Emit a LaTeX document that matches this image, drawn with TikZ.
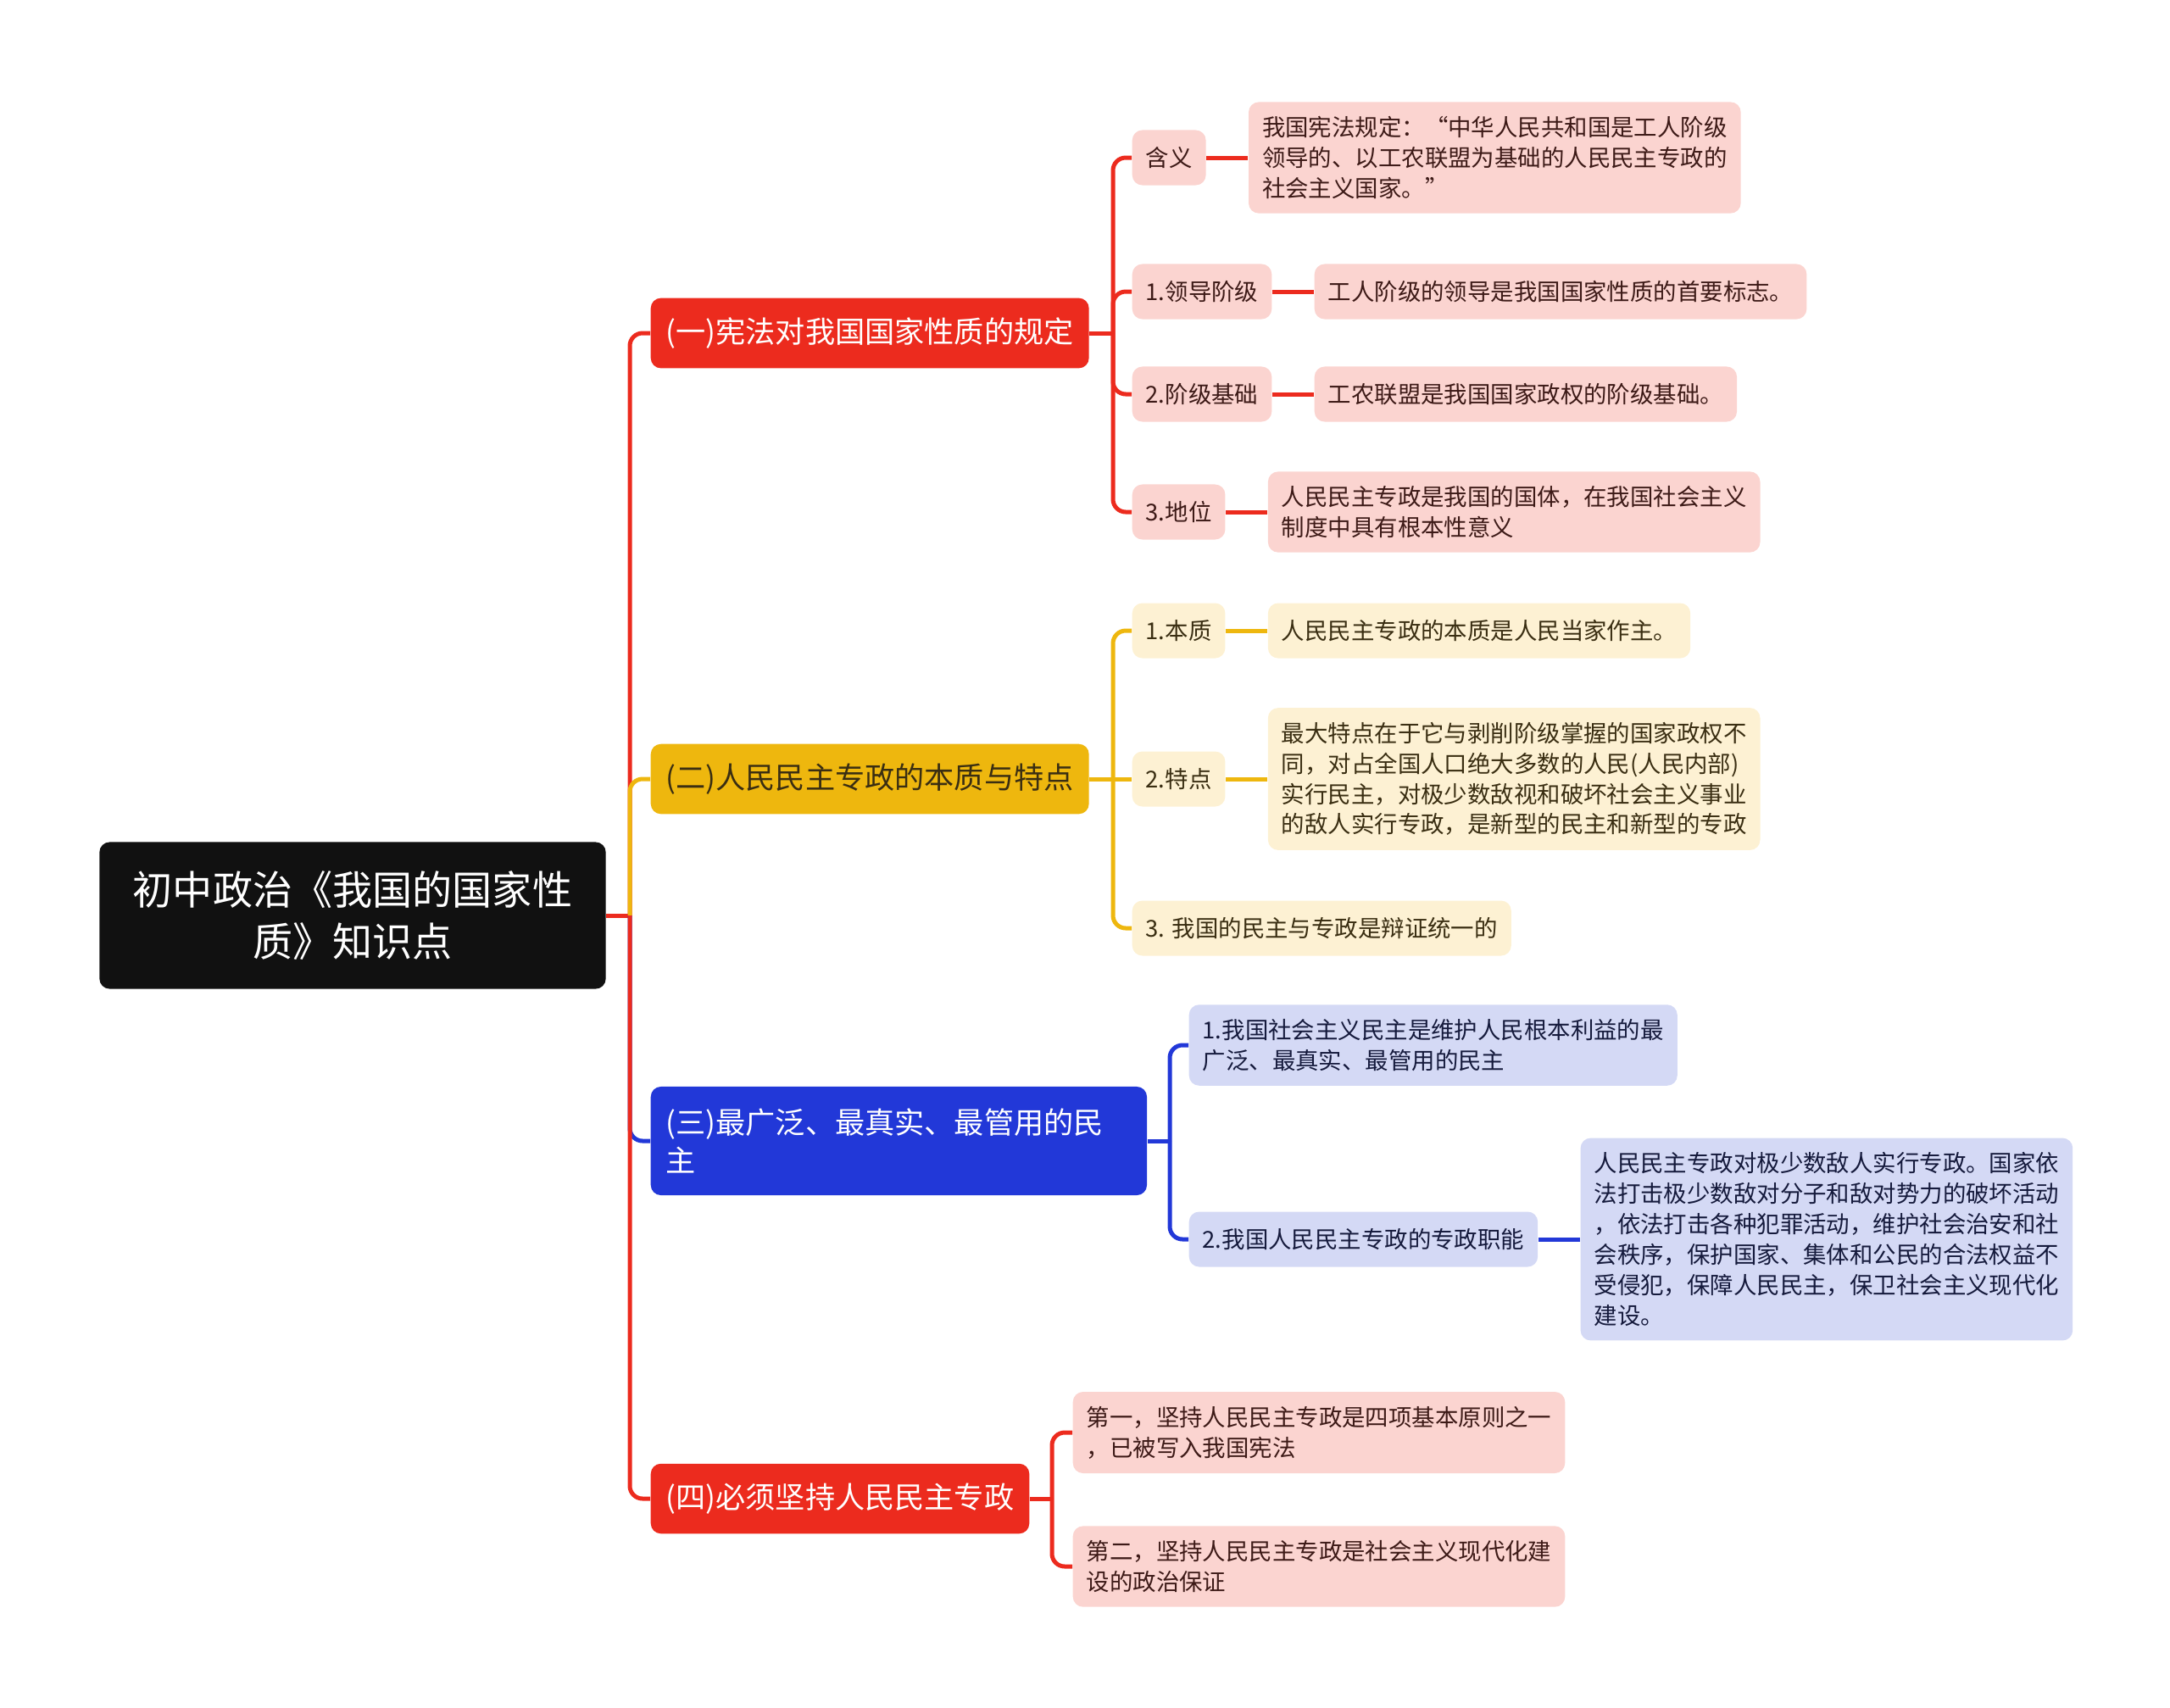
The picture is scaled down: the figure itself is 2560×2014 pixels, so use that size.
\documentclass[tikz,border=0pt]{standalone}
\usepackage{fontspec}
\newfontfamily\cjk{Noto Sans CJK SC}
\usepackage{tikz}
\usetikzlibrary{positioning}
\definecolor{mapred}{HTML}{EC2B1E}
\definecolor{mapyellow}{HTML}{EEB70E}
\definecolor{mapblue}{HTML}{2238D8}
\definecolor{softred}{HTML}{FBD4D0}
\definecolor{softyellow}{HTML}{FDF1D3}
\definecolor{softblue}{HTML}{D4D9F5}
\definecolor{inkred}{HTML}{3D1A17}
\definecolor{inkyellow}{HTML}{3A2E12}
\definecolor{inkblue}{HTML}{151A3C}
\definecolor{rootblack}{HTML}{111111}

\begin{document}
\begin{tikzpicture}[x=0.01cm, y=-0.01cm, node distance=0.49cm, every node/.style={font=\cjk}]
\tikzstyle{root}=[fill=rootblack, rounded corners=0.12cm, align=center, text=white, minimum width=5.97cm, minimum height=1.73cm, font=\cjk\fontsize{13.4}{17.6}\selectfont]
\tikzstyle{branch}=[rounded corners=0.12cm, align=left, anchor=west, inner xsep=0.18cm, inner ysep=0.23cm, minimum height=0.81cm, font=\cjk\fontsize{10}{13}\selectfont]
\tikzstyle{leaf}=[rounded corners=0.12cm, align=left, inner xsep=0.16cm, inner ysep=0.17cm, minimum height=0.65cm, font=\cjk\fontsize{7.8}{10.2}\selectfont]
\tikzstyle{redleaf}=[leaf, fill=softred, text=inkred]
\tikzstyle{yellowleaf}=[leaf, fill=softyellow, text=inkyellow]
\tikzstyle{blueleaf}=[leaf, fill=softblue, text=inkblue]
\tikzstyle{redline}=[draw=mapred, line width=0.05cm]
\tikzstyle{yellowline}=[draw=mapyellow, line width=0.05cm]
\tikzstyle{blueline}=[draw=mapblue, line width=0.05cm]
\useasboundingbox (0,0) rectangle (2560,2014);

% root and main branches
\node[root] (root) at (416,1080) {初中政治《我国的国家性\\质》知识点};
\node[branch, fill=mapred, text=white] (b1) at (767,393) {(一)宪法对我国国家性质的规定};
\node[branch, fill=mapyellow, text=inkyellow] (b2) at (767,919) {(二)人民民主专政的本质与特点};
\node[branch, fill=mapblue, text=white, text width=5.49cm, minimum height=1.28cm] (b3) at (767,1346) {(三)最广泛、最真实、最管用的民\\主};
\node[branch, fill=mapred, text=white] (b4) at (767,1768) {(四)必须坚持人民民主专政};
\coordinate (hub) at (743,1080);
\coordinate (h1) at (1313,393);
\coordinate (h2) at (1313,919);
\coordinate (h3) at (1380,1346);
\coordinate (h4) at (1241,1768);

% (一)
\node[redleaf, anchor=west] (han) at (1335,186) {含义};
\node[redleaf, right=of han] (hand) {我国宪法规定：“中华人民共和国是工人阶级\\领导的、以工农联盟为基础的人民民主专政的\\社会主义国家。”};
\node[redleaf, anchor=west] (lead) at (1335,344) {1.领导阶级};
\node[redleaf, right=of lead] (leadd) {工人阶级的领导是我国国家性质的首要标志。};
\node[redleaf, anchor=west] (base) at (1335,465) {2.阶级基础};
\node[redleaf, right=of base] (based) {工农联盟是我国国家政权的阶级基础。};
\node[redleaf, anchor=west] (pos) at (1335,604) {3.地位};
\node[redleaf, right=of pos] (posd) {人民民主专政是我国的国体，在我国社会主义\\制度中具有根本性意义};

% (二)
\node[yellowleaf, anchor=west] (ess) at (1335,744) {1.本质};
\node[yellowleaf, right=of ess] (essd) {人民民主专政的本质是人民当家作主。};
\node[yellowleaf, anchor=west] (feat) at (1335,919) {2.特点};
\node[yellowleaf, right=of feat] (featd) {最大特点在于它与剥削阶级掌握的国家政权不\\同，对占全国人口绝大多数的人民(人民内部)\\实行民主，对极少数敌视和破坏社会主义事业\\的敌人实行专政，是新型的民主和新型的专政};
\node[yellowleaf, anchor=west] (unity) at (1335,1095) {3. 我国的民主与专政是辩证统一的};

% (三)
\node[blueleaf, anchor=west] (demo) at (1402,1233) {1.我国社会主义民主是维护人民根本利益的最\\广泛、最真实、最管用的民主};
\node[blueleaf, anchor=west] (dict) at (1402,1462) {2.我国人民民主专政的专政职能};
\node[blueleaf, right=of dict] (dictd) {人民民主专政对极少数敌人实行专政。国家依\\法打击极少数敌对分子和敌对势力的破坏活动\\，依法打击各种犯罪活动，维护社会治安和社\\会秩序，保护国家、集体和公民的合法权益不\\受侵犯，保障人民民主，保卫社会主义现代化\\建设。};

% (四)
\node[redleaf, anchor=west] (first) at (1265,1690) {第一，坚持人民民主专政是四项基本原则之一\\，已被写入我国宪法};
\node[redleaf, anchor=west] (second) at (1265,1848) {第二，坚持人民民主专政是社会主义现代化建\\设的政治保证};

% connectors
\draw[redline] (root) -- (hub);
\draw[redline, rounded corners=0.15cm] (hub) |- (b1);
\draw[yellowline, rounded corners=0.15cm] (hub) |- (b2);
\draw[blueline, rounded corners=0.15cm] (hub) |- (b3);
\draw[redline, rounded corners=0.15cm] (hub) |- (b4);

\draw[redline] (b1) -- (h1);
\draw[redline, rounded corners=0.15cm] (h1) |- (han);
\draw[redline, rounded corners=0.15cm] (h1) |- (lead);
\draw[redline, rounded corners=0.15cm] (h1) |- (base);
\draw[redline, rounded corners=0.15cm] (h1) |- (pos);
\draw[redline] (han) -- (hand);
\draw[redline] (lead) -- (leadd);
\draw[redline] (base) -- (based);
\draw[redline] (pos) -- (posd);

\draw[yellowline] (b2) -- (h2);
\draw[yellowline, rounded corners=0.15cm] (h2) |- (ess);
\draw[yellowline] (h2) -- (feat);
\draw[yellowline, rounded corners=0.15cm] (h2) |- (unity);
\draw[yellowline] (ess) -- (essd);
\draw[yellowline] (feat) -- (featd);

\draw[blueline] (b3) -- (h3);
\draw[blueline, rounded corners=0.15cm] (h3) |- (demo);
\draw[blueline, rounded corners=0.15cm] (h3) |- (dict);
\draw[blueline] (dict) -- (dictd);

\draw[redline] (b4) -- (h4);
\draw[redline, rounded corners=0.15cm] (h4) |- (first);
\draw[redline, rounded corners=0.15cm] (h4) |- (second);
\end{tikzpicture}
\end{document}
